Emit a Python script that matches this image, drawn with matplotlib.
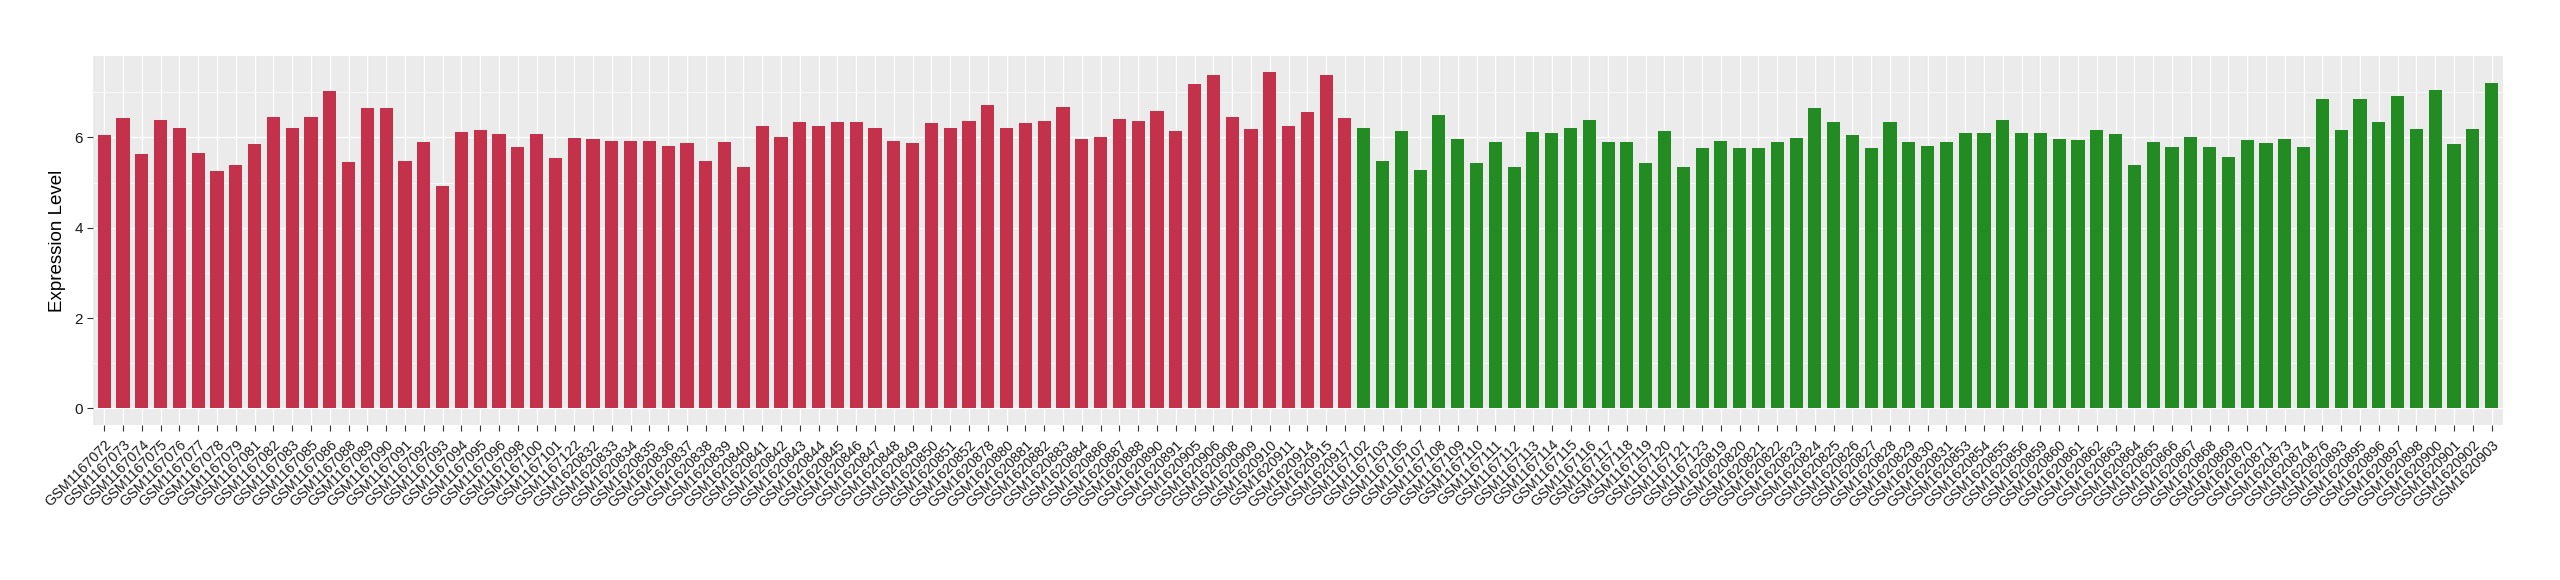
import numpy as np
import matplotlib
matplotlib.use("Agg")
import matplotlib.pyplot as plt
from matplotlib.ticker import MultipleLocator

plt.rcParams['font.family'] = ['Liberation Sans', 'DejaVu Sans']

# group 1 (red)
red_samples = [
    "GSM1167072", "GSM1167073", "GSM1167074", "GSM1167075", "GSM1167076",
    "GSM1167077", "GSM1167078", "GSM1167079", "GSM1167081", "GSM1167082",
    "GSM1167083", "GSM1167085", "GSM1167086", "GSM1167088", "GSM1167089",
    "GSM1167090", "GSM1167091", "GSM1167092", "GSM1167093", "GSM1167094",
    "GSM1167095", "GSM1167096", "GSM1167098", "GSM1167100", "GSM1167101",
    "GSM1167122", "GSM1620832", "GSM1620833", "GSM1620834", "GSM1620835",
    "GSM1620836", "GSM1620837", "GSM1620838", "GSM1620839", "GSM1620840",
    "GSM1620841", "GSM1620842", "GSM1620843", "GSM1620844", "GSM1620845",
    "GSM1620846", "GSM1620847", "GSM1620848", "GSM1620849", "GSM1620850",
    "GSM1620851", "GSM1620852", "GSM1620878", "GSM1620880", "GSM1620881",
    "GSM1620882", "GSM1620883", "GSM1620884", "GSM1620886", "GSM1620887",
    "GSM1620888", "GSM1620890", "GSM1620891", "GSM1620905", "GSM1620906",
    "GSM1620908", "GSM1620909", "GSM1620910", "GSM1620911", "GSM1620914",
    "GSM1620915", "GSM1620917",
]
red_values = [
    6.05, 6.43, 5.63, 6.39, 6.20, 5.65, 5.26, 5.40, 5.85, 6.46,
    6.20, 6.46, 7.04, 5.45, 6.66, 6.66, 5.49, 5.90, 4.92, 6.12,
    6.16, 6.07, 5.78, 6.07, 5.55, 5.99, 5.97, 5.93, 5.93, 5.93,
    5.82, 5.87, 5.47, 5.89, 5.34, 6.26, 6.01, 6.35, 6.26, 6.35,
    6.35, 6.20, 5.93, 5.87, 6.32, 6.22, 6.37, 6.71, 6.20, 6.31,
    6.37, 6.68, 5.97, 6.01, 6.41, 6.37, 6.58, 6.14, 7.18, 7.38,
    6.46, 6.18, 7.44, 6.26, 6.56, 7.38, 6.43,
]

# group 2 (green)
green_samples = [
    "GSM1167102", "GSM1167103", "GSM1167105", "GSM1167107", "GSM1167108",
    "GSM1167109", "GSM1167110", "GSM1167111", "GSM1167112", "GSM1167113",
    "GSM1167114", "GSM1167115", "GSM1167116", "GSM1167117", "GSM1167118",
    "GSM1167119", "GSM1167120", "GSM1167121", "GSM1167123", "GSM1620819",
    "GSM1620820", "GSM1620821", "GSM1620822", "GSM1620823", "GSM1620824",
    "GSM1620825", "GSM1620826", "GSM1620827", "GSM1620828", "GSM1620829",
    "GSM1620830", "GSM1620831", "GSM1620853", "GSM1620854", "GSM1620855",
    "GSM1620856", "GSM1620859", "GSM1620860", "GSM1620861", "GSM1620862",
    "GSM1620863", "GSM1620864", "GSM1620865", "GSM1620866", "GSM1620867",
    "GSM1620868", "GSM1620869", "GSM1620870", "GSM1620871", "GSM1620873",
    "GSM1620874", "GSM1620876", "GSM1620893", "GSM1620895", "GSM1620896",
    "GSM1620897", "GSM1620898", "GSM1620900", "GSM1620901", "GSM1620902",
    "GSM1620903",
]
green_values = [
    6.22, 5.49, 6.14, 5.28, 6.49, 5.97, 5.43, 5.89, 5.34, 6.12,
    6.10, 6.20, 6.39, 5.89, 5.89, 5.43, 6.14, 5.34, 5.76, 5.93,
    5.76, 5.76, 5.90, 5.99, 6.66, 6.35, 6.05, 5.76, 6.35, 5.90,
    5.82, 5.89, 6.10, 6.10, 6.39, 6.10, 6.10, 5.97, 5.95, 6.16,
    6.07, 5.40, 5.90, 5.80, 6.01, 5.80, 5.57, 5.95, 5.87, 5.97,
    5.78, 6.85, 6.16, 6.85, 6.35, 6.91, 6.18, 7.06, 5.85, 6.18,
    7.21,
]

red_col = "#C3314A"
green_col = "#228B22"

samples = red_samples + green_samples
values = red_values + green_values
colors = [red_col] * len(red_values) + [green_col] * len(green_values)
x = np.arange(len(samples))

fig = plt.figure(figsize=(25.6, 5.8), dpi=100)
ax = fig.add_axes([0.0363, 0.267, 0.9414, 0.637])
ax.set_facecolor("#EBEBEB")

ax.bar(x, values, width=0.7, color=colors, zorder=3)

# ggplot-style expansion: 5% on y, 0.6 units on the discrete x axis
top = max(values)
ax.set_ylim(-0.05 * top, 1.05 * top)
ax.set_xlim(-0.6, len(samples) - 1 + 0.6)

ax.yaxis.set_major_locator(MultipleLocator(2))
ax.yaxis.set_minor_locator(MultipleLocator(1))
ax.grid(which="major", color="white", linewidth=0.9, zorder=0)
ax.grid(which="minor", axis="y", color="white", linewidth=0.45, zorder=0)
ax.set_axisbelow(True)

for s in ax.spines.values():
    s.set_visible(False)

ax.set_xticks(x)
ax.set_xticklabels(samples, rotation=45, ha="right", va="top",
                   rotation_mode="anchor", fontsize=10.3, color="#1A1A1A")
ax.tick_params(axis="both", which="major", length=4, width=0.8,
               color="#333333", labelcolor="#1A1A1A")
ax.tick_params(axis="x", pad=5)
ax.tick_params(axis="y", labelsize=11, pad=3)
ax.tick_params(axis="y", which="minor", length=0)

ax.set_ylabel("Expression Level", fontsize=13.5, color="black", labelpad=6)

fig.savefig("out.png", dpi=100)
